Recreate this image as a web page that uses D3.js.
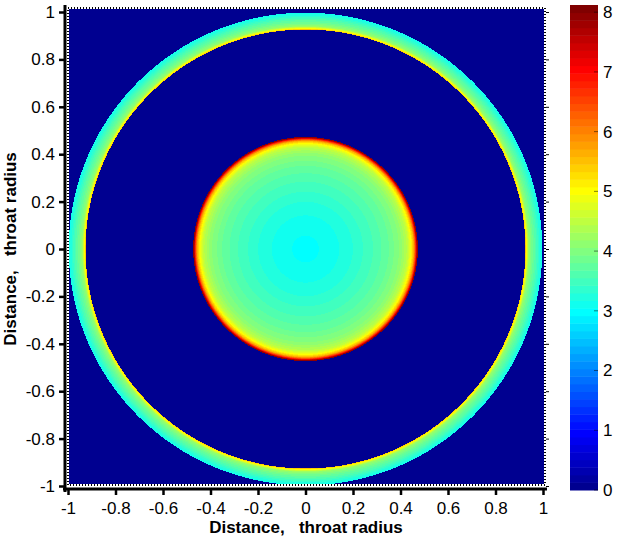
<!DOCTYPE html>
<html>
<head>
<meta charset="utf-8">
<script src="https://cdn.jsdelivr.net/npm/d3@7/dist/d3.min.js"></script>
<style>
    body { margin: 0; background: #fff; }
    svg text { font-family: "Liberation Sans", Arial, sans-serif; }
</style>
</head>
<body>
<div id="chart"></div>
<script>
    // radial profile of the field (radius in throat radii)
    var coreRadius = [0, 0.1, 0.2, 0.3, 0.35, 0.4, 0.43, 0.445, 0.455, 0.462, 0.466, 0.469, 0.473];
    var coreValue  = [3.0, 3.08, 3.3, 3.6, 3.8, 4.1, 4.5, 5.0, 5.6, 6.4, 7.1, 7.8, 8.0];
    var ringRadius = [0.926, 0.933, 0.94, 0.955, 0.97, 0.985, 0.997];
    var ringValue  = [5.5, 4.8, 4.2, 3.85, 3.6, 3.3, 3.1];
    var backgroundValue = 0;

    var axisTicks  = [-1, -0.8, -0.6, -0.4, -0.2, 0, 0.2, 0.4, 0.6, 0.8, 1];
    var colorTicks = [0, 1, 2, 3, 4, 5, 6, 7, 8];
    var colorMax = 8.12;
    var axisTitle = "Distance,   throat radius";

    var width = 618, height = 541;

    var svg = d3.select("#chart").append("svg")
        .attr("width", width)
        .attr("height", height);

    // set the ranges
    var x = d3.scaleLinear().domain([-1, 1]).range([68, 543]);
    var y = d3.scaleLinear().domain([-1, 1]).range([486, 12]);

    // jet colormap, 64 levels
    var jet = d3.scaleLinear()
        .domain([0, 0.125, 0.375, 0.625, 0.875, 1])
        .range(["#000080", "#0000ff", "#00ffff", "#ffff00", "#ff0000", "#800000"]);
    var jetColors = d3.range(64).map(function (k) { return jet((k + 1) / 64); });
    var color = d3.scaleQuantize().domain([0, colorMax]).range(jetColors);

    var core = d3.scaleLinear().domain(coreRadius).range(coreValue).clamp(true);
    var ring = d3.scaleLinear().domain(ringRadius).range(ringValue).clamp(true);

    function fieldAt(r) {
        if (r <= coreRadius[coreRadius.length - 1]) return core(r);
        if (r >= ringRadius[0] && r <= ringRadius[ringRadius.length - 1]) return ring(r);
        return backgroundValue;
    }

    // draw the field into a canvas, then put it in the svg as an image
    var img0 = 69, img1 = 545, imgTop = 9, imgBottom = 485;
    var cw = img1 - img0, ch = imgBottom - imgTop;
    var canvas = document.createElement("canvas");
    canvas.width = cw;
    canvas.height = ch;
    var ctx = canvas.getContext("2d");
    var pix = ctx.createImageData(cw, ch);
    for (var j = 0; j < ch; j++) {
        var yv = y.invert(imgTop + j + 0.5);
        for (var i = 0; i < cw; i++) {
            var xv = x.invert(img0 + i + 0.5);
            var c = d3.rgb(color(fieldAt(Math.sqrt(xv * xv + yv * yv))));
            var p = (j * cw + i) * 4;
            pix.data[p] = c.r;
            pix.data[p + 1] = c.g;
            pix.data[p + 2] = c.b;
            pix.data[p + 3] = 255;
        }
    }
    ctx.putImageData(pix, 0, 0);

    svg.append("image")
        .attr("x", img0)
        .attr("y", imgTop)
        .attr("width", cw)
        .attr("height", ch)
        .attr("preserveAspectRatio", "none")
        .attr("href", canvas.toDataURL());

    // dotted frame round the image
    svg.append("rect")
        .attr("x", img0 - 1).attr("y", imgTop - 1)
        .attr("width", cw + 1).attr("height", ch + 1)
        .attr("fill", "none")
        .attr("stroke", "#fff")
        .attr("stroke-width", 2);
    svg.append("rect")
        .attr("x", img0 - 1).attr("y", imgTop - 1)
        .attr("width", cw + 1).attr("height", ch + 1)
        .attr("fill", "none")
        .attr("stroke", "#000")
        .attr("stroke-width", 2)
        .attr("stroke-dasharray", "1,2");

    // right side major ticks
    svg.append("g")
        .attr("transform", "translate(" + (img1 + 1) + ",0)")
        .call(d3.axisRight(y).tickValues(axisTicks).tickSize(3).tickSizeOuter(0).tickFormat(""))
        .call(function (g) { g.select(".domain").remove(); });

    // Add the Y Axis
    var yAxis = svg.append("g")
        .attr("transform", "translate(65,0)")
        .call(d3.axisLeft(y).tickValues(axisTicks).tickSize(6).tickSizeOuter(0).tickPadding(4)
            .tickFormat(function (d) { return String(d); }));
    yAxis.select(".domain").remove();
    yAxis.selectAll(".tick line").attr("stroke-width", 2.5);
    yAxis.selectAll("text").attr("font-size", 17).attr("fill", "#000");
    svg.append("line")
        .attr("x1", 65).attr("x2", 65)
        .attr("y1", 5).attr("y2", 492)
        .attr("stroke", "#000").attr("stroke-width", 3);

    // Add the X Axis
    var xAxis = svg.append("g")
        .attr("transform", "translate(0,489)")
        .call(d3.axisBottom(x).tickValues(axisTicks).tickSize(6).tickSizeOuter(0).tickPadding(7)
            .tickFormat(function (d) { return String(d); }));
    xAxis.select(".domain").remove();
    xAxis.selectAll(".tick line").attr("stroke-width", 2.5);
    xAxis.selectAll("text").attr("font-size", 17).attr("fill", "#000");
    svg.append("line")
        .attr("x1", 63).attr("x2", 547)
        .attr("y1", 489).attr("y2", 489)
        .attr("stroke", "#000").attr("stroke-width", 3);

    svg.append("text")
        .attr("x", 306)
        .attr("y", 533)
        .attr("text-anchor", "middle")
        .attr("font-size", 17)
        .attr("font-weight", "bold")
        .style("white-space", "pre")
        .text(axisTitle);

    svg.append("text")
        .attr("transform", "translate(16,249) rotate(-90)")
        .attr("text-anchor", "middle")
        .attr("font-size", 17)
        .attr("font-weight", "bold")
        .style("white-space", "pre")
        .text(axisTitle);

    // colorbar
    var cb = d3.scaleLinear().domain([0, colorMax]).range([490, 5]);
    var step = colorMax / 64;
    svg.append("g").selectAll("rect")
        .data(jetColors)
        .enter().append("rect")
        .attr("x", 570)
        .attr("width", 28)
        .attr("y", function (d, k) { return cb((k + 1) * step); })
        .attr("height", function (d, k) { return cb(k * step) - cb((k + 1) * step) + 0.5; })
        .attr("fill", function (d) { return d; });

    var cAxis = svg.append("g")
        .attr("transform", "translate(598,0)")
        .call(d3.axisRight(cb).tickValues(colorTicks).tickSize(0).tickPadding(5)
            .tickFormat(function (d) { return String(d); }));
    cAxis.select(".domain").remove();
    cAxis.selectAll("text").attr("font-size", 17).attr("fill", "#000");
    svg.append("g").selectAll("line")
        .data(colorTicks)
        .enter().append("line")
        .attr("x1", 594).attr("x2", 598)
        .attr("y1", function (d) { return cb(d); })
        .attr("y2", function (d) { return cb(d); })
        .attr("stroke", "#000")
        .attr("stroke-opacity", 0.5);
</script>
</body>
</html>
